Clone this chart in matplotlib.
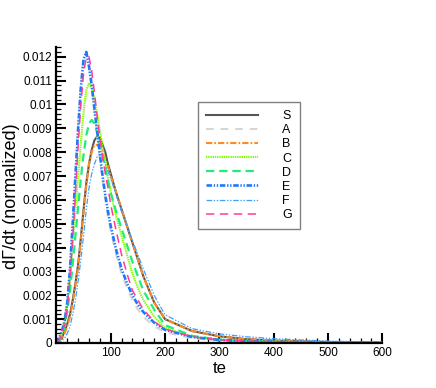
import matplotlib
matplotlib.use("Agg")
import matplotlib.pyplot as plt
from matplotlib.ticker import MultipleLocator, FormatStrFormatter

plt.rcParams["font.family"] = ["Liberation Sans", "DejaVu Sans"]
plt.rcParams["lines.scale_dashes"] = False

# ── data ──────────────────────────────────────────────────────────────────
te = [0, 5, 10, 15, 20, 25, 30, 35, 40, 45, 50, 55, 60, 65, 70, 75, 80, 85, 90, 95, 100,
      110, 120, 130, 140, 150, 160, 180, 200, 250, 300, 350, 400, 500, 600]

S = [0, 0.0001, 0.0002, 0.0005, 0.0008, 0.0012, 0.0018, 0.0025, 0.0033, 0.0044, 0.0056,
     0.0067, 0.0075, 0.0081, 0.0085, 0.00865, 0.0086, 0.0083, 0.0080, 0.0075, 0.0071,
     0.0063, 0.0056, 0.0049, 0.0042, 0.0035, 0.0028, 0.0017, 0.0010, 0.0005, 0.00028,
     0.00016, 0.0001, 0.00004, 0.00001]
A = [0, 0.0002, 0.0005, 0.0010, 0.0018, 0.0032, 0.0051, 0.0071, 0.0091, 0.0108, 0.0119,
     0.0122, 0.0116, 0.0107, 0.0097, 0.0087, 0.0077, 0.0068, 0.0060, 0.0053, 0.0047,
     0.0037, 0.0029, 0.0023, 0.0018, 0.0014, 0.0011, 0.0007, 0.00045, 0.0002, 0.0001,
     0.00006, 0.00004, 0.00002, 0.00001]
B = [0, 0.0001, 0.0002, 0.0004, 0.0007, 0.0011, 0.0017, 0.0024, 0.0032, 0.0043, 0.0055,
     0.0066, 0.0075, 0.0080, 0.0083, 0.0083, 0.0082, 0.0080, 0.0077, 0.0074, 0.0070,
     0.0063, 0.0056, 0.0049, 0.0042, 0.0035, 0.0028, 0.0017, 0.0010, 0.0005, 0.00028,
     0.00016, 0.0001, 0.00004, 0.00001]
C = [0, 0.0001, 0.0004, 0.0008, 0.0016, 0.0028, 0.0042, 0.0056, 0.0070, 0.0084, 0.0097,
     0.0106, 0.0109, 0.0107, 0.0102, 0.0096, 0.0089, 0.0082, 0.0076, 0.0069, 0.0063,
     0.0053, 0.0045, 0.0037, 0.0029, 0.0023, 0.0018, 0.0011, 0.00063, 0.00026, 0.00013,
     0.00008, 0.00005, 0.00002, 0.00001]
D = [0, 0.0001, 0.0003, 0.0007, 0.0013, 0.0022, 0.0033, 0.0045, 0.0057, 0.0069, 0.0079,
     0.0087, 0.0092, 0.00935, 0.0092, 0.0088, 0.0083, 0.0078, 0.0073, 0.0068, 0.0063,
     0.0055, 0.0048, 0.0041, 0.0034, 0.0028, 0.0022, 0.0014, 0.00075, 0.0003, 0.00014,
     0.00008, 0.00005, 0.00002, 0.00001]
E = [0, 0.0002, 0.0005, 0.0009, 0.0017, 0.0031, 0.0050, 0.0070, 0.0090, 0.0107, 0.0119,
     0.0122, 0.0116, 0.0108, 0.0098, 0.0089, 0.0079, 0.0070, 0.0062, 0.0055, 0.0049,
     0.0039, 0.0031, 0.0025, 0.0020, 0.0016, 0.0013, 0.00085, 0.00055, 0.00025, 0.00013,
     0.00008, 0.00005, 0.00002, 0.00001]
F = [0, 0.0, 0.0001, 0.0002, 0.0004, 0.0007, 0.0012, 0.0018, 0.0026, 0.0035, 0.0045,
     0.0056, 0.0065, 0.0071, 0.0075, 0.0078, 0.0078, 0.0077, 0.0075, 0.0072, 0.0069,
     0.0062, 0.0055, 0.0049, 0.0043, 0.0037, 0.0031, 0.0020, 0.00118, 0.0006, 0.00038,
     0.00026, 0.00018, 0.00008, 0.00003]
G = [0, 0.0001, 0.0004, 0.0008, 0.0015, 0.0027, 0.0044, 0.0063, 0.0083, 0.0100, 0.0113,
     0.0120, 0.0120, 0.0114, 0.0105, 0.0095, 0.0086, 0.0078, 0.0071, 0.0065, 0.0058,
     0.0047, 0.0037, 0.0029, 0.0022, 0.0018, 0.0014, 0.0009, 0.00058, 0.00026, 0.00013,
     0.00008, 0.00005, 0.00002, 0.00001]

series = [
    ("S", S, dict(color="#555555", lw=1.5, ls="-")),
    ("A", A, dict(color="#d6d6d6", lw=1.5, dashes=(5.5, 5.0))),
    ("B", B, dict(color="#ff8a1e", lw=1.5, dashes=(4.5, 1.5, 1.2, 1.5))),
    ("C", C, dict(color="#80ff00", lw=1.5, dashes=(1.0, 0.6))),
    ("D", D, dict(color="#1eee78", lw=1.6, dashes=(6.0, 3.5))),
    ("E", E, dict(color="#1e78ff", lw=1.9, dashes=(4.0, 1.2, 1.0, 1.2, 1.0, 1.2))),
    ("F", F, dict(color="#3ca0ff", lw=0.9, dashes=(4.0, 1.2, 1.0, 1.2, 1.0, 1.2))),
    ("G", G, dict(color="#ff3c96", lw=1.1, dashes=(6.0, 4.0))),
]

# ── figure ────────────────────────────────────────────────────────────────
fig = plt.figure(figsize=(4.36, 3.88), dpi=100)
ax = fig.add_axes([0.1294, 0.116, 0.7474, 0.7636])

for name, vals, style in series:
    ax.plot(te, vals, label=name, **style)

ax.set_xlim(0, 600)
ax.set_ylim(0, 0.01242)

ax.xaxis.set_major_locator(MultipleLocator(100))
ax.xaxis.set_minor_locator(MultipleLocator(20))
ax.yaxis.set_major_locator(MultipleLocator(0.001))
ax.yaxis.set_minor_locator(MultipleLocator(0.0002))
ax.set_xticks([100, 200, 300, 400, 500, 600])
ax.yaxis.set_major_formatter(FormatStrFormatter("%g"))

for side in ("top", "right"):
    ax.spines[side].set_visible(False)
for side in ("left", "bottom"):
    ax.spines[side].set_linewidth(1.6)

ax.tick_params(which="major", direction="in", length=7, width=1.5, labelsize=8.5, pad=3)
ax.tick_params(which="minor", direction="in", length=3.5, width=0.9)

ax.set_xlabel("te", fontsize=12, labelpad=1)
ax.set_ylabel("dΓ/dt (normalized)", fontsize=13)
ax.yaxis.set_label_coords(-0.112, 0.496)

leg = ax.legend(loc="upper left", bbox_to_anchor=(0.434, 0.813), borderaxespad=0,
                fontsize=9, handlelength=4.2, handletextpad=1.9, labelspacing=0.17,
                borderpad=0.65, fancybox=False, framealpha=1, edgecolor="#808080")
leg.get_frame().set_linewidth(1.0)

fig.savefig("out.png", dpi=100)
